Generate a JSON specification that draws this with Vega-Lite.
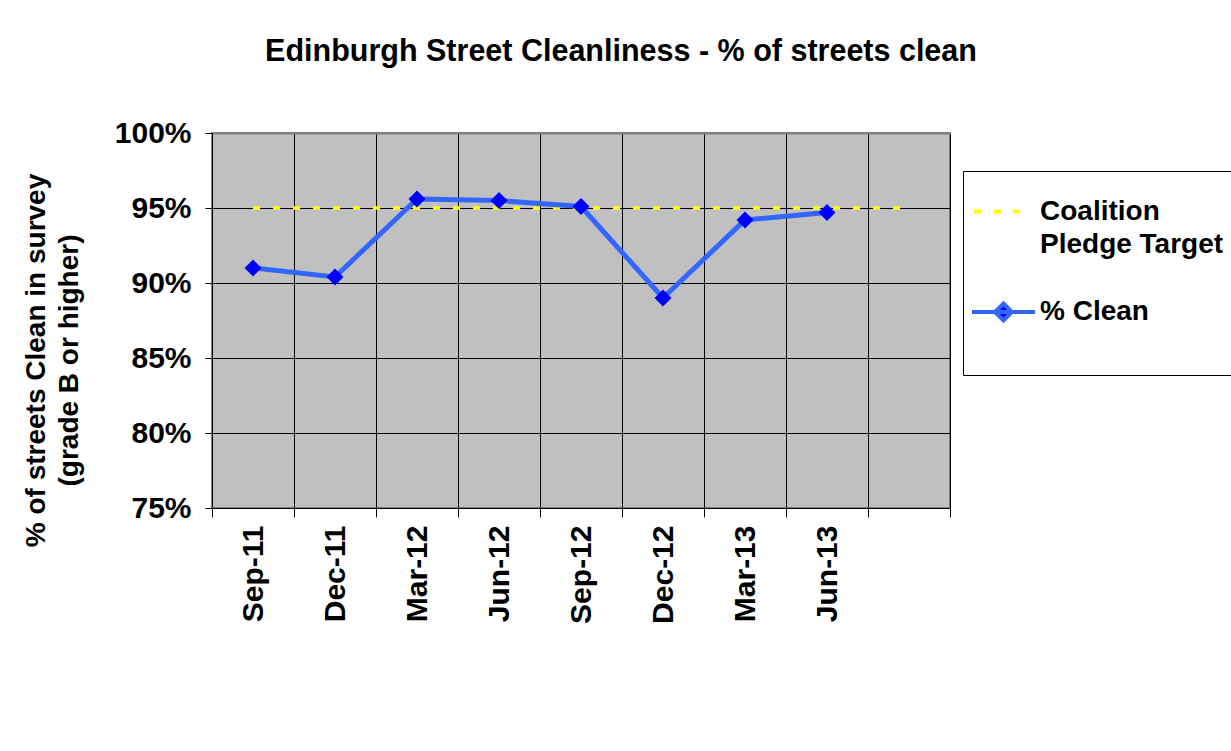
{
  "$schema": "https://vega.github.io/schema/vega-lite/v6.json",
  "width": 738,
  "height": 375,
  "autosize": {"type": "none"},
  "padding": {"left": 212, "top": 133, "right": 281, "bottom": 243},
  "background": "white",
  "config": {
    "font": "Liberation Sans",
    "view": {"fill": "#C0C0C0", "stroke": "#808080", "strokeWidth": 2}
  },
  "title": {
    "text": "Edinburgh Street Cleanliness - % of streets clean",
    "fontSize": 30.5,
    "fontWeight": "bold",
    "font": "Liberation Sans",
    "color": "black",
    "anchor": "middle",
    "dx": 40,
    "baseline": "alphabetic",
    "offset": 27
  },
  "data": {
    "values": [
      {"quarter": "Sep-11", "series": "% Clean", "value": 0.910},
      {"quarter": "Dec-11", "series": "% Clean", "value": 0.904},
      {"quarter": "Mar-12", "series": "% Clean", "value": 0.956},
      {"quarter": "Jun-12", "series": "% Clean", "value": 0.955},
      {"quarter": "Sep-12", "series": "% Clean", "value": 0.951},
      {"quarter": "Dec-12", "series": "% Clean", "value": 0.890},
      {"quarter": "Mar-13", "series": "% Clean", "value": 0.942},
      {"quarter": "Jun-13", "series": "% Clean", "value": 0.947},
      {"quarter": "Sep-11", "series": "Coalition Pledge Target", "value": 0.95},
      {"quarter": "Dec-11", "series": "Coalition Pledge Target", "value": 0.95},
      {"quarter": "Mar-12", "series": "Coalition Pledge Target", "value": 0.95},
      {"quarter": "Jun-12", "series": "Coalition Pledge Target", "value": 0.95},
      {"quarter": "Sep-12", "series": "Coalition Pledge Target", "value": 0.95},
      {"quarter": "Dec-12", "series": "Coalition Pledge Target", "value": 0.95},
      {"quarter": "Mar-13", "series": "Coalition Pledge Target", "value": 0.95},
      {"quarter": "Jun-13", "series": "Coalition Pledge Target", "value": 0.95},
      {"quarter": "", "series": "Coalition Pledge Target", "value": 0.95}
    ]
  },
  "encoding": {
    "x": {
      "field": "quarter",
      "type": "nominal",
      "title": null,
      "scale": {
        "type": "band",
        "domain": ["Sep-11", "Dec-11", "Mar-12", "Jun-12", "Sep-12", "Dec-12", "Mar-13", "Jun-13", ""],
        "paddingInner": 0,
        "paddingOuter": 0
      },
      "axis": {
        "tickBand": "extent",
        "grid": true,
        "gridColor": "black",
        "gridWidth": 1,
        "gridOpacity": 1,
        "domainColor": "black",
        "domainWidth": 1,
        "tickColor": "black",
        "tickSize": 9,
        "tickWidth": 1,
        "labelAngle": 270,
        "labelAlign": "right",
        "labelBaseline": "middle",
        "labelPadding": 8,
        "labelFont": "Liberation Sans",
        "labelFontSize": 30,
        "labelFontWeight": "bold",
        "labelColor": "black"
      }
    },
    "y": {
      "field": "value",
      "type": "quantitative",
      "scale": {"domain": [0.75, 1.0], "zero": false, "nice": false},
      "axis": {
        "values": [0.75, 0.8, 0.85, 0.9, 0.95, 1.0],
        "format": ".0%",
        "grid": true,
        "gridColor": {"condition": {"test": "datum.value >= 1", "value": "#808080"}, "value": "black"},
        "gridWidth": {"condition": {"test": "datum.value >= 1", "value": 2}, "value": 1},
        "gridOpacity": 1,
        "domainColor": "black",
        "domainWidth": 1,
        "tickColor": "black",
        "tickSize": 7,
        "tickWidth": 1,
        "labelPadding": 14,
        "labelFont": "Liberation Sans",
        "labelFontSize": 30,
        "labelFontWeight": "bold",
        "labelColor": "black",
        "title": ["% of streets Clean in survey", "(grade B or higher)"],
        "titleFont": "Liberation Sans",
        "titleFontSize": 28,
        "titleFontWeight": "bold",
        "titleColor": "black",
        "titleAngle": 270,
        "titleAlign": "center",
        "titleBaseline": "top",
        "titleLineHeight": 33,
        "titleX": -190,
        "titleY": 227
      }
    }
  },
  "layer": [
    {
      "transform": [{"filter": "datum.series == 'Coalition Pledge Target'"}],
      "mark": {"type": "line", "color": "#FFFF00", "strokeWidth": 3.5, "strokeDash": [7, 13]}
    },
    {
      "transform": [{"filter": "datum.series == '% Clean'"}],
      "mark": {"type": "line", "color": "#3366FF", "strokeWidth": 5}
    },
    {
      "transform": [{"filter": "datum.series == '% Clean'"}],
      "mark": {"type": "point", "shape": "diamond", "filled": true, "color": "#0000FF", "size": 289, "opacity": 1}
    },
    {
      "mark": {"type": "point", "filled": true, "opacity": 0, "strokeWidth": 4},
      "encoding": {
        "shape": {
          "field": "series",
          "type": "nominal",
          "scale": {
            "domain": ["Coalition Pledge Target", "% Clean"],
            "range": [
              "M-0.94,0H-0.71M-0.3,0H-0.08M0.3,0H0.52",
              "M-1,0H1M0,-0.27L0.27,0L0,0.27L-0.27,0ZM0,1.5"
            ]
          },
          "legend": {
            "orient": "none",
            "legendX": 751,
            "legendY": 38,
            "title": null,
            "padding": 7,
            "fillColor": "white",
            "strokeColor": "black",
            "labelFont": "Liberation Sans",
            "labelFontSize": 28,
            "labelFontWeight": "bold",
            "labelColor": "black",
            "labelLimit": 400,
            "labelOffset": 3,
            "symbolSize": 3969,
            "symbolStrokeWidth": 4,
            "symbolOpacity": 1,
            "rowPadding": 19.5,
            "labelExpr": "datum.label == 'Coalition Pledge Target' ? ['Coalition', 'Pledge Target'] : datum.label",
            "encode": {"labels": {"update": {"lineHeight": {"value": 33}}}}
          }
        },
        "fill": {
          "field": "series",
          "type": "nominal",
          "scale": {"domain": ["Coalition Pledge Target", "% Clean"], "range": ["#FFFF00", "#0000FF"]},
          "legend": {
            "orient": "none",
            "legendX": 751,
            "legendY": 38,
            "title": null,
            "padding": 7,
            "fillColor": "white",
            "strokeColor": "black",
            "labelFont": "Liberation Sans",
            "labelFontSize": 28,
            "labelFontWeight": "bold",
            "labelColor": "black",
            "labelLimit": 400,
            "labelOffset": 3,
            "symbolSize": 3969,
            "symbolStrokeWidth": 4,
            "symbolOpacity": 1,
            "rowPadding": 19.5,
            "labelExpr": "datum.label == 'Coalition Pledge Target' ? ['Coalition', 'Pledge Target'] : datum.label",
            "encode": {"labels": {"update": {"lineHeight": {"value": 33}}}}
          }
        },
        "stroke": {
          "field": "series",
          "type": "nominal",
          "scale": {"domain": ["Coalition Pledge Target", "% Clean"], "range": ["#FFFF00", "#3366FF"]},
          "legend": {
            "orient": "none",
            "legendX": 751,
            "legendY": 38,
            "title": null,
            "padding": 7,
            "fillColor": "white",
            "strokeColor": "black",
            "labelFont": "Liberation Sans",
            "labelFontSize": 28,
            "labelFontWeight": "bold",
            "labelColor": "black",
            "labelLimit": 400,
            "labelOffset": 3,
            "symbolSize": 3969,
            "symbolStrokeWidth": 4,
            "symbolOpacity": 1,
            "rowPadding": 19.5,
            "labelExpr": "datum.label == 'Coalition Pledge Target' ? ['Coalition', 'Pledge Target'] : datum.label",
            "encode": {"labels": {"update": {"lineHeight": {"value": 33}}}}
          }
        }
      }
    }
  ]
}
